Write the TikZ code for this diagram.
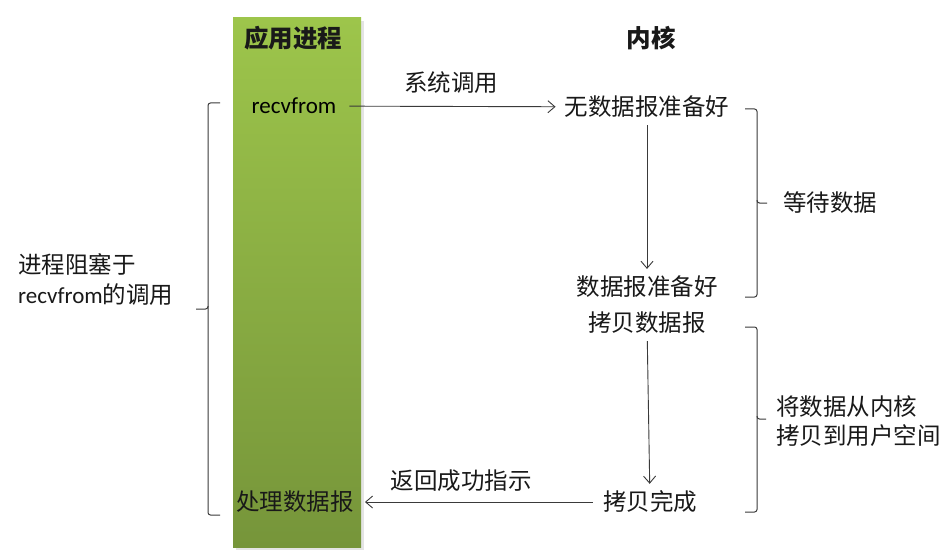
\documentclass[tikz,border=0pt]{standalone}
\usepackage{fontspec}
\setmainfont{Carlito}
\newfontfamily\cjk{Noto Sans CJK SC}
\usetikzlibrary{arrows.meta}
\definecolor{ink}{HTML}{3A3A3A}
\definecolor{bartop}{HTML}{9DC54B}
\definecolor{barbot}{HTML}{76953A}
\tikzset{
  lbl/.style={inner sep=0pt, font=\fontsize{23.5}{28}\selectfont\cjk, text=black!90},
  lat/.style={inner sep=0pt, font=\fontsize{23}{27}\selectfont, text=black},
  flow/.style={draw=ink, line width=0.9pt, -{Straight Barb[length=7pt,width=12pt,line width=0.9pt]}},
  bracket/.style={draw=ink, line width=1pt, rounded corners=2.5pt},
}
\begin{document}
\begin{tikzpicture}[x=1pt,y=-1pt]
\useasboundingbox[fill=white] (0,0) rectangle (950,559);
% shadow and bar
\fill[gray!35, opacity=0.6] (236,21) rectangle (364,550);
\fill[top color=bartop, bottom color=barbot] (233,18) rectangle (361,547);
% headers
\node[lbl, font=\fontsize{24.5}{28}\selectfont\cjk\bfseries] (app) at (293,38) {应用进程};
\node[lbl, font=\fontsize{24.5}{28}\selectfont\cjk\bfseries] (kern) at (651,38) {内核};
% application side
\node[lat] (rv) at (294,106) {recvfrom};
\node[lbl] (proc) at (295,502) {处理数据报};
% kernel side
\node[lbl] (nd) at (647,107) {无数据报准备好};
\node[lbl] (rd) at (647,287) {数据报准备好};
\node[lbl] (cp) at (647,323) {拷贝数据报};
\node[lbl] (done) at (650,502) {拷贝完成};
% arrow labels
\node[lbl] (sys) at (451,83) {系统调用};
\node[lbl] (ret) at (461,481) {返回成功指示};
% arrows
\draw[flow, shorten <=13pt, shorten >=9pt] (rv) -- (nd);
\draw[flow, shorten <=7pt, shorten >=7pt] (nd) -- (rd);
\draw[flow, shorten <=7pt, shorten >=7pt] (cp) -- (done);
\draw[flow, shorten <=10pt, shorten >=11pt] (done) -- (proc);
% right brackets
\coordinate (b1t) at (745,109);
\coordinate (b1m) at (767,203);
\coordinate (b1b) at (745,297);
\draw[bracket] (b1t) -- (757,109) -- (757,203) -- (b1m);
\draw[bracket] (757,200) -- (757,297) -- (b1b);
\node[lbl, anchor=west] (wait) at (783,203) {等待数据};
\coordinate (b2t) at (745,327);
\coordinate (b2m) at (766,419);
\coordinate (b2b) at (745,512);
\draw[bracket] (b2t) -- (757,327) -- (757,419) -- (b2m);
\draw[bracket] (757,416) -- (757,512) -- (b2b);
\node[lbl, anchor=west, align=left, font=\fontsize{23.5}{29}\selectfont\cjk] (copy) at (776,421) {将数据从内核\\拷贝到用户空间};
% left bracket
\coordinate (lbt) at (220,103);
\coordinate (lbm) at (196,309);
\coordinate (lbb) at (220,515);
\draw[bracket] (lbt) -- (208,103) -- (208,309) -- (lbm);
\draw[bracket] (208,306) -- (208,515) -- (lbb);
\node[lbl, anchor=west, align=left, font=\fontsize{23.5}{30}\selectfont\cjk] (block) at (18,280) {进程阻塞于\\{\fontsize{23}{30}\selectfont\rmfamily recvfrom}的调用};
\end{tikzpicture}
\end{document}
